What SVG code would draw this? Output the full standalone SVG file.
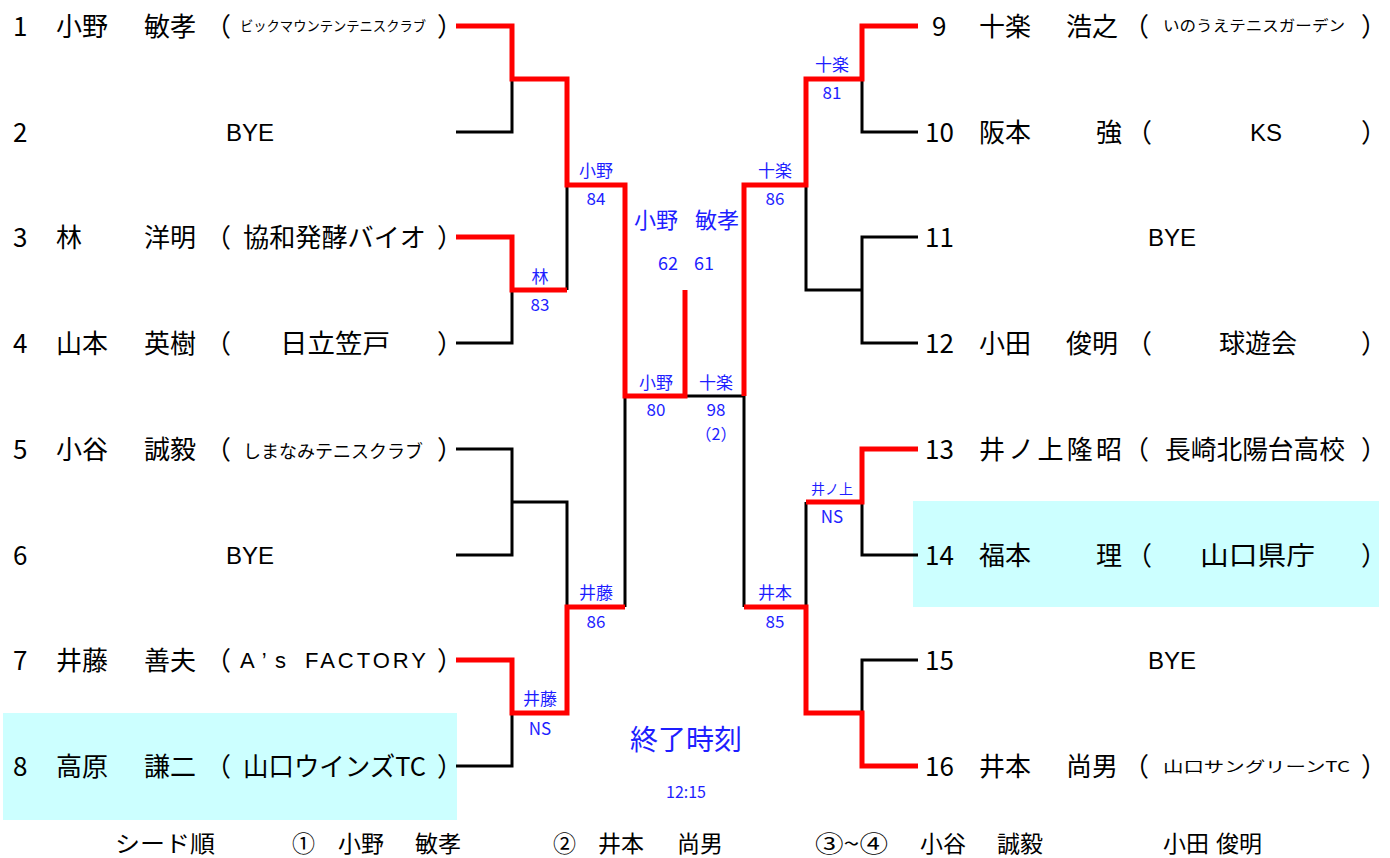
<svg xmlns="http://www.w3.org/2000/svg" width="1390" height="858" viewBox="0 0 1390 858">
<style>
text{font-family:"Noto Sans CJK JP","Liberation Sans",sans-serif;fill:#000}
.n{font-size:26px}
.c{font-size:26px}
.s{font-size:14px}
.f{font-size:23px}
.b{font-size:17px;fill:#1E1EFF;text-anchor:middle}
.bk{fill:none;stroke:#000;stroke-width:3;stroke-linejoin:miter}
.rd{fill:none;stroke:#FF0000;stroke-width:5;stroke-linejoin:miter}
.m{text-anchor:middle}
.lat{font-family:"Liberation Sans",Arial,sans-serif}
</style>
<rect x="3" y="713" width="454" height="107" fill="#CCFFFF"/>
<rect x="913" y="501" width="466" height="106" fill="#CCFFFF"/>
<g id="connectors">
<path class="bk" d="M456,132 H512 V79 M456,343 H512 V290 M567,185 V290 M456,449 H512 V555 H456 M512,502 H567 V607 M456,766 H512 V713 M625,396 V607 M685,396 H744 V607"/>
<path class="bk" d="M918,132 H862 V79 M918,237 H862 V343 H918 M862,290 H806 V185 M918,555 H862 V502 M806,502 V607 M918,660 H862 V713"/>
<path class="rd" d="M456,26 H512 V79 H567 V185 H625 V396 H685 V290"/>
<path class="rd" d="M456,237 H512 V290 H567"/>
<path class="rd" d="M456,660 H512 V713 H567 V607 H625"/>
<path class="rd" d="M918,26 H862 V79 H806 V185 H744 V396"/>
<path class="rd" d="M918,449 H862 V502 H806"/>
<path class="rd" d="M918,766 H862 V713 H806 V607 H744"/>
</g>
<g id="p1"><text class="n" x="13" y="36">1</text><text class="n" x="56" y="36">小野</text><text class="n" x="144" y="36">敏孝</text><text class="c" x="205" y="36">（</text><text class="s" x="240" y="31" textLength="186" lengthAdjust="spacingAndGlyphs">ビックマウンテンテニスクラブ</text><text class="c" x="437" y="36">）</text></g>
<g id="p2"><text class="n" x="13" y="142">2</text><text class="f m lat" x="250" y="141" style="font-size:24px">BYE</text></g>
<g id="p3"><text class="n" x="13" y="247">3</text><text class="n" x="56" y="247">林</text><text class="n" x="144" y="247">洋明</text><text class="c" x="205" y="247">（</text><text class="c" x="243" y="247" textLength="183" lengthAdjust="spacingAndGlyphs">協和発酵バイオ</text><text class="c" x="437" y="247">）</text></g>
<g id="p4"><text class="n" x="13" y="353">4</text><text class="n" x="56" y="353">山本</text><text class="n" x="144" y="353">英樹</text><text class="c" x="205" y="353">（</text><text class="c" x="280" y="353" textLength="110" lengthAdjust="spacingAndGlyphs">日立笠戸</text><text class="c" x="437" y="353">）</text></g>
<g id="p5"><text class="n" x="13" y="459">5</text><text class="n" x="56" y="459">小谷</text><text class="n" x="144" y="459">誠毅</text><text class="c" x="205" y="459">（</text><text class="c" x="243" y="458" style="font-size:18px" textLength="180" lengthAdjust="spacingAndGlyphs">しまなみテニスクラブ</text><text class="c" x="437" y="459">）</text></g>
<g id="p6"><text class="n" x="13" y="565">6</text><text class="f m lat" x="250" y="564" style="font-size:24px">BYE</text></g>
<g id="p7"><text class="n" x="13" y="670">7</text><text class="n" x="56" y="670">井藤</text><text class="n" x="144" y="670">善夫</text><text class="c" x="205" y="670">（</text><text class="lat" x="240" y="668" style="font-size:22px" textLength="46" lengthAdjust="spacing">A’s</text><text class="lat" x="305" y="668" style="font-size:22px" textLength="121" lengthAdjust="spacing">FACTORY</text><text class="c" x="437" y="670">）</text></g>
<g id="p8"><text class="n" x="13" y="776">8</text><text class="n" x="56" y="776">高原</text><text class="n" x="144" y="776">謙二</text><text class="c" x="205" y="776">（</text><text class="c" x="243" y="776" textLength="183" lengthAdjust="spacingAndGlyphs">山口ウインズTC</text><text class="c" x="437" y="776">）</text></g>
<g id="p9"><text class="n" x="932" y="36">9</text><text class="n" x="979" y="36">十楽</text><text class="n" x="1066" y="36">浩之</text><text class="c" x="1123" y="36">（</text><text class="s" x="1163" y="31" style="font-size:15px" textLength="182" lengthAdjust="spacingAndGlyphs">いのうえテニスガーデン</text><text class="c" x="1361" y="36">）</text></g>
<g id="p10"><text class="n" x="925" y="142">10</text><text class="n" x="979" y="142">阪本</text><text class="n" x="1096" y="142">強</text><text class="c" x="1126" y="142">（</text><text class="m lat" x="1266" y="141" style="font-size:24px">KS</text><text class="c" x="1361" y="142">）</text></g>
<g id="p11"><text class="n" x="925" y="247">11</text><text class="f m lat" x="1172" y="246" style="font-size:24px">BYE</text></g>
<g id="p12"><text class="n" x="925" y="353">12</text><text class="n" x="979" y="353">小田</text><text class="n" x="1066" y="353">俊明</text><text class="c" x="1126" y="353">（</text><text class="c m" x="1258" y="353">球遊会</text><text class="c" x="1361" y="353">）</text></g>
<g id="p13"><text class="n" x="925" y="459">13</text><text class="n" x="979" y="459" textLength="143" lengthAdjust="spacing">井ノ上隆昭</text><text class="c" x="1123" y="459">（</text><text class="c" x="1165" y="459" textLength="180" lengthAdjust="spacingAndGlyphs">長崎北陽台高校</text><text class="c" x="1361" y="459">）</text></g>
<g id="p14"><text class="n" x="925" y="565">14</text><text class="n" x="979" y="565">福本</text><text class="n" x="1096" y="565">理</text><text class="c" x="1126" y="565">（</text><text class="c" x="1200" y="565" textLength="115" lengthAdjust="spacingAndGlyphs">山口県庁</text><text class="c" x="1361" y="565">）</text></g>
<g id="p15"><text class="n" x="925" y="670">15</text><text class="f m lat" x="1172" y="669" style="font-size:24px">BYE</text></g>
<g id="p16"><text class="n" x="925" y="776">16</text><text class="n" x="979" y="776">井本</text><text class="n" x="1066" y="776">尚男</text><text class="c" x="1123" y="776">（</text><text class="s" x="1163" y="772" style="font-size:15px" textLength="187" lengthAdjust="spacingAndGlyphs">山口サングリーンTC</text><text class="c" x="1361" y="776">）</text></g>
<g id="scores">
<text class="b" x="540" y="283">林</text><text class="b" x="540" y="311">83</text>
<text class="b" x="596" y="177">小野</text><text class="b" x="596" y="205">84</text>
<text class="b" x="832" y="71">十楽</text><text class="b" x="832" y="99">81</text>
<text class="b" x="775" y="177">十楽</text><text class="b" x="775" y="205">86</text>
<text class="b" x="656" y="228" style="font-size:22px">小野</text><text class="b" x="717" y="228" style="font-size:22px">敏孝</text>
<text class="b" x="668" y="270" style="font-size:18px">62</text><text class="b" x="704" y="270" style="font-size:18px">61</text>
<text class="b" x="656" y="389">小野</text><text class="b" x="656" y="416">80</text>
<text class="b" x="716" y="389">十楽</text><text class="b" x="716" y="416">98</text><text class="b" x="716" y="440" style="font-size:16px">（2）</text>
<text class="b" x="596" y="599">井藤</text><text class="b" x="596" y="628">86</text>
<text class="b" x="775" y="599">井本</text><text class="b" x="775" y="628">85</text>
<text class="b" x="540" y="705">井藤</text><text class="b" x="540" y="735">NS</text>
<text class="b" x="832" y="494" style="font-size:14px">井ノ上</text><text class="b" x="832" y="523">NS</text>
<text class="b" x="686" y="750" style="font-size:28px">終了時刻</text>
<text class="b" x="686" y="798" style="font-size:16px">12:15</text>
</g>
<g id="seeds">
<text class="f" x="115" y="852" textLength="100" lengthAdjust="spacingAndGlyphs">シード順</text>
<text class="f" x="292" y="852">①</text>
<text class="f" x="338" y="852">小野</text><text class="f" x="415" y="852">敏孝</text>
<text class="f" x="553" y="852">②</text>
<text class="f" x="598" y="852">井本</text><text class="f" x="677" y="852">尚男</text>
<text class="f" x="815" y="852" textLength="73" lengthAdjust="spacingAndGlyphs">③~④</text>
<text class="f" x="920" y="852">小谷</text><text class="f" x="997" y="852">誠毅</text>
<text class="f" x="1163" y="852">小田</text><text class="f" x="1216" y="852">俊明</text>
</g>
</svg>
